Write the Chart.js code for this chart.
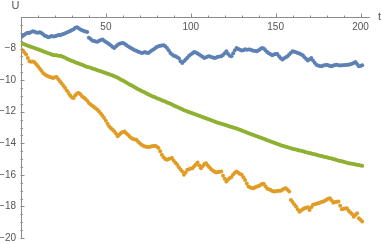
<!DOCTYPE html>
<html>
<head>
  <title>U over t</title>
  <script src="https://cdn.jsdelivr.net/npm/chart.js"></script>
  <style>
    html, body { margin: 0; padding: 0; background: #fff; }
    #wrap { width: 382px; height: 244px; }
  </style>
</head>
<body>
  <div id="wrap"><canvas id="myChart"></canvas></div>

  <script>
    // x values: t = 0 .. 201
    const tValues = [];
    for (let i = 0; i <= 201; i++) tValues.push(i);

    const blueValues = [
      -7.28, -7.20, -7.12, -7.05, -7.00, -7.02, -6.95, -6.90, -6.94, -6.98,
      -7.00, -6.97, -7.02, -7.10, -7.18, -7.22, -7.28, -7.25, -7.20, -7.24,
      -7.22, -7.18, -7.14, -7.16, -7.11, -7.08, -7.03, -6.98, -6.94, -6.88,
      -6.82, -6.78, -6.68, -6.65, -6.72, -6.79, -6.84, -6.88, -6.92, -6.95,
      -7.32, -7.40, -7.49, -7.52, -7.55, -7.57, -7.50, -7.45, -7.43, -7.50,
      -7.58, -7.64, -7.72, -7.80, -7.90, -7.96, -7.85, -7.75, -7.70, -7.66,
      -7.64, -7.70, -7.78, -7.85, -7.92, -7.98, -8.04, -8.10, -8.14, -8.20,
      -8.24, -8.28, -8.26, -8.22, -8.27, -8.28, -8.20, -8.12, -8.06, -7.98,
      -7.90, -7.85, -7.82, -7.80, -7.79, -7.86, -7.96, -8.10, -8.28, -8.38,
      -8.45, -8.49, -8.55, -8.62, -8.80, -8.91, -8.80, -8.70, -8.58, -8.45,
      -8.38, -8.30, -8.21, -8.25, -8.32, -8.38, -8.46, -8.52, -8.59, -8.55,
      -8.50, -8.49, -8.54, -8.57, -8.59, -8.56, -8.52, -8.50, -8.49, -8.40,
      -8.30, -8.17, -8.35, -8.45, -8.49, -8.30, -8.10, -7.96, -8.02, -8.08,
      -8.13, -8.10, -8.05, -8.08, -8.06, -8.06, -8.10, -8.14, -8.16, -8.17,
      -8.10, -8.02, -7.96, -8.00, -8.10, -8.21, -8.30, -8.36, -8.42, -8.38,
      -8.34, -8.34, -8.48, -8.62, -8.70, -8.62, -8.55, -8.49, -8.38, -8.26,
      -8.17, -8.20, -8.24, -8.28, -8.32, -8.38, -8.42, -8.55, -8.66, -8.76,
      -8.68, -8.59, -8.75, -8.90, -9.02, -9.08, -9.10, -9.12, -9.08, -9.05,
      -9.02, -9.06, -9.10, -9.12, -9.08, -9.04, -9.02, -9.05, -9.08, -9.06,
      -9.06, -9.04, -9.03, -9.02, -9.00, -8.96, -8.92, -8.85, -8.98, -9.12,
      -9.10, -9.06
    ];

    const greenValues = [
      -7.64, -7.69, -7.73, -7.78, -7.82, -7.86, -7.90, -7.94, -7.97, -8.01,
      -8.05, -8.09, -8.13, -8.17, -8.21, -8.25, -8.29, -8.33, -8.38, -8.40,
      -8.42, -8.43, -8.45, -8.46, -8.48, -8.53, -8.58, -8.64, -8.70, -8.74,
      -8.78, -8.82, -8.86, -8.91, -8.95, -8.99, -9.03, -9.08, -9.12, -9.16,
      -9.19, -9.22, -9.26, -9.29, -9.33, -9.37, -9.40, -9.44, -9.48, -9.51,
      -9.55, -9.59, -9.63, -9.67, -9.71, -9.75, -9.80, -9.85, -9.91, -9.97,
      -10.03, -10.09, -10.15, -10.21, -10.27, -10.33, -10.39, -10.45, -10.51, -10.57,
      -10.62, -10.68, -10.73, -10.78, -10.84, -10.89, -10.95, -11.00, -11.05, -11.09,
      -11.14, -11.18, -11.23, -11.27, -11.32, -11.36, -11.41, -11.45, -11.50, -11.55,
      -11.60, -11.65, -11.70, -11.75, -11.80, -11.85, -11.90, -11.94, -11.98, -12.02,
      -12.06, -12.10, -12.14, -12.18, -12.22, -12.26, -12.30, -12.34, -12.38, -12.42,
      -12.46, -12.50, -12.54, -12.58, -12.62, -12.66, -12.70, -12.73, -12.77, -12.80,
      -12.83, -12.86, -12.90, -12.93, -12.97, -13.00, -13.03, -13.07, -13.11, -13.15,
      -13.19, -13.23, -13.27, -13.31, -13.36, -13.40, -13.44, -13.48, -13.52, -13.56,
      -13.60, -13.64, -13.68, -13.72, -13.76, -13.80, -13.84, -13.88, -13.92, -13.96,
      -14.00, -14.04, -14.08, -14.12, -14.16, -14.19, -14.22, -14.25, -14.28, -14.31,
      -14.34, -14.37, -14.40, -14.43, -14.45, -14.48, -14.51, -14.54, -14.57, -14.60,
      -14.62, -14.65, -14.68, -14.70, -14.73, -14.76, -14.79, -14.81, -14.84, -14.87,
      -14.89, -14.92, -14.95, -14.97, -15.00, -15.03, -15.06, -15.09, -15.12, -15.14,
      -15.17, -15.20, -15.23, -15.26, -15.28, -15.30, -15.32, -15.34, -15.36, -15.38,
      -15.40, -15.43
    ];

    const orangeValues = [
      -8.02, -8.12, -8.25, -8.38, -8.60, -8.80, -8.84, -8.82, -8.87, -9.00,
      -9.12, -9.26, -9.40, -9.54, -9.62, -9.70, -9.76, -9.80, -9.84, -9.86,
      -9.82, -9.80, -9.94, -10.08, -10.22, -10.36, -10.50, -10.66, -10.82, -10.98,
      -11.10, -11.13, -10.95, -10.84, -10.81, -10.90, -11.03, -11.10, -11.20, -11.30,
      -11.45, -11.55, -11.62, -11.70, -11.78, -11.88, -11.98, -12.12, -12.26, -12.40,
      -12.58, -12.76, -12.93, -13.04, -13.15, -13.25, -13.40, -13.55, -13.45, -13.35,
      -13.28, -13.25, -13.36, -13.46, -13.57, -13.66, -13.73, -13.76, -13.78, -13.90,
      -14.00, -14.10, -14.16, -14.20, -14.22, -14.24, -14.22, -14.18, -14.17, -14.16,
      -14.22, -14.30, -14.50, -14.73, -14.88, -15.00, -15.05, -15.00, -14.96, -14.94,
      -15.10, -15.24, -15.36, -15.52, -15.66, -15.78, -16.00, -15.85, -15.68, -15.64,
      -15.60, -15.58, -15.45, -15.34, -15.22, -15.40, -15.58, -15.45, -15.32, -15.26,
      -15.40, -15.52, -15.64, -15.72, -15.80, -15.85, -15.82, -15.80, -15.78, -16.05,
      -16.25, -16.42, -16.30, -16.20, -16.14, -15.98, -15.86, -15.78, -15.86, -15.94,
      -16.00, -16.15, -16.32, -16.55, -16.74, -16.80, -16.84, -16.85, -16.78, -16.74,
      -16.70, -16.64, -16.58, -16.57, -16.72, -16.86, -16.91, -16.96, -17.02, -17.06,
      -17.04, -17.02, -17.01, -17.00, -16.94, -16.88, -16.85, -16.95, -17.06, -17.59,
      -17.72, -17.88, -18.01, -18.18, -18.33, -18.25, -18.18, -18.12, -18.08, -18.05,
      -18.22, -18.05, -17.90, -17.86, -17.83, -17.80, -17.76, -17.72, -17.69, -17.64,
      -17.58, -17.52, -17.48, -17.62, -17.76, -17.72, -17.70, -17.69, -17.95, -18.18,
      -18.15, -18.13, -18.12, -18.28, -18.38, -18.48, -18.65, -18.55, -18.43, -18.75,
      -18.85, -18.96
    ];

    // tick labels
    const xTickLabels = [50, 100, 150, 200];
    const yTickLabels = [-8, -10, -12, -14, -16, -18, -20];

    const axisColor = '#8c8c8c';
    const textColor = '#555555';
    const fontFamily = '"Liberation Sans", Arial, sans-serif';

    function toPoints(values) {
      return values.map((v, i) => ({ x: tValues[i], y: v }));
    }

    // tick marks and axis names, drawn through the chart's scales
    const axisDecor = {
      id: 'axisDecor',
      afterDraw(chart) {
        const ctx = chart.ctx;
        const xs = chart.scales.x;
        const ys = chart.scales.y;
        const axisY = Math.round(ys.getPixelForValue(-6)) + 0.5;
        const axisX = Math.round(xs.getPixelForValue(0)) - 0.5;
        ctx.save();
        ctx.strokeStyle = axisColor;
        ctx.lineWidth = 1;
        ctx.beginPath();
        xs.ticks.forEach(t => {
          if (t.value <= 0 || t.value % 10 !== 0) return;
          const px = Math.round(xs.getPixelForValue(t.value)) + 0.5;
          const len = xTickLabels.includes(t.value) ? 4 : 2;
          ctx.moveTo(px, axisY);
          ctx.lineTo(px, axisY - len);
        });
        ys.ticks.forEach(t => {
          if (t.value >= -6) return;
          const py = Math.round(ys.getPixelForValue(t.value)) + 0.5;
          const len = yTickLabels.includes(t.value) ? 4 : 2.5;
          ctx.moveTo(axisX, py);
          ctx.lineTo(axisX + len, py);
        });
        ctx.stroke();

        ctx.fillStyle = textColor;
        ctx.font = '11px ' + fontFamily;
        ctx.textAlign = 'center';
        ctx.textBaseline = 'middle';
        ctx.fillText('U', 15.5, 6);
        ctx.fillText('t', 379.5, 16.5);
        ctx.restore();
      }
    };

    const ctx = document.getElementById('myChart').getContext('2d');
    const myChart = new Chart(ctx, {
      type: 'scatter',
      data: {
        datasets: [
          {
            label: 'series 1',
            data: toPoints(blueValues),
            backgroundColor: 'rgb(94, 129, 181)',
            borderWidth: 0,
            pointRadius: 2
          },
          {
            label: 'series 2',
            data: toPoints(orangeValues),
            backgroundColor: 'rgb(225, 156, 36)',
            borderWidth: 0,
            pointRadius: 2
          },
          {
            label: 'series 3',
            data: toPoints(greenValues),
            backgroundColor: 'rgb(143, 176, 50)',
            borderWidth: 0,
            pointRadius: 2
          }
        ]
      },
      options: {
        responsive: true,
        maintainAspectRatio: false,
        animation: false,
        events: [],
        layout: { padding: { top: 17, right: 13, bottom: 6, left: 0 } },
        plugins: {
          legend: { display: false },
          tooltip: { enabled: false }
        },
        scales: {
          x: {
            type: 'linear',
            position: { y: -6 },
            min: 0,
            max: 205,
            grid: { display: true, drawOnChartArea: false, drawTicks: false },
            border: { color: axisColor, width: 1 },
            ticks: {
              stepSize: 10,
              includeBounds: false,
              autoSkip: false,
              maxRotation: 0,
              padding: 4,
              color: textColor,
              font: { family: fontFamily, size: 10 },
              callback: v => xTickLabels.includes(v) ? String(v) : ''
            }
          },
          y: {
            type: 'linear',
            position: 'left',
            min: -20,
            max: -6,
            grid: { display: true, drawOnChartArea: false, drawTicks: false },
            border: { color: axisColor, width: 1 },
            ticks: {
              stepSize: 0.5,
              includeBounds: false,
              autoSkip: false,
              padding: 5,
              color: textColor,
              font: { family: fontFamily, size: 10 },
              callback: v => yTickLabels.includes(v) ? '\u2212' + Math.abs(v) : ''
            },
            afterFit: s => {
              s.width = 21;
              s.paddingTop = 0;
              s.paddingBottom = 0;
            }
          }
        }
      },
      plugins: [axisDecor]
    });
  </script>
</body>
</html>
